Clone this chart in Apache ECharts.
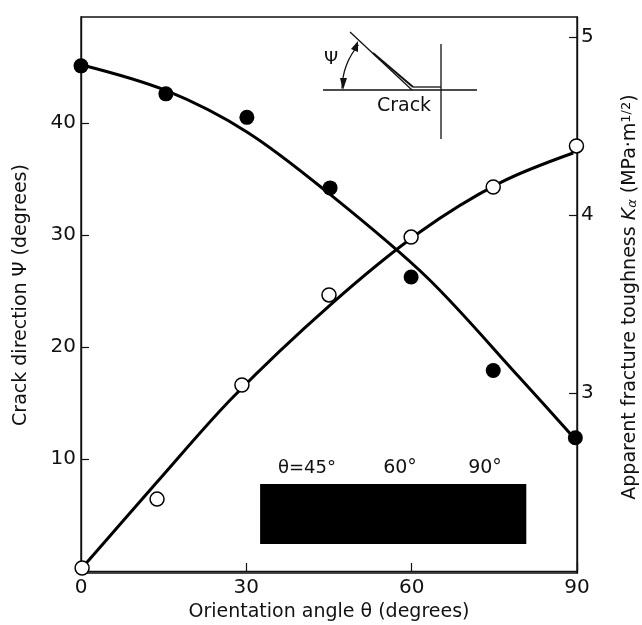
<!DOCTYPE html>
<html><head><meta charset="utf-8">
<style>html,body{margin:0;padding:0;background:#fff}#c{width:642px;height:625px}</style>
<script src="https://cdn.jsdelivr.net/npm/echarts@6/dist/echarts.min.js"></script>
</head><body><div id="c"></div>
<script>
var psiPoints = [[0,45.1],[15.4,42.6],[30.1,40.5],[45.2,34.2],[59.9,26.25],[74.8,17.9],[89.7,11.9]];
var psiCurve = [[0,45.2],[15.4,42.9],[30.1,39.2],[45,33.7],[62.8,26.2],[79.7,17.2],[89.8,11.7]];
var kPoints = [[0.2,2.017],[13.8,2.404],[29.2,3.045],[45.0,3.551],[59.9,3.876],[74.8,4.157],[89.9,4.388]];
var kCurve = [[0.5,2.028],[13.8,2.5],[27.6,2.978],[45.2,3.494],[61.5,3.904],[76,4.18],[89.3,4.348]];
var xTicks = [0,30,60,90];
var psiTicks = [10,20,30,40];
var kTicks = [3,4,5];
var barX = [32.5,80.8];
var barPsi = [2.41,7.77];
var barLabels = ['θ=45°','60°','90°'];

var FONT = '"DejaVu Sans"';
var ink = '#111';
var tickSize = 20, nameSize = 19;
function txt(x,y,t,size,extra){
  return {type:'text',x:x,y:y,silent:true,style:Object.assign({text:t,font:size+'px '+FONT,fill:ink,align:'center',verticalAlign:'middle'},extra||{})};
}
function ln(x1,y1,x2,y2,w){
  return {type:'line',silent:true,shape:{x1:x1,y1:y1,x2:x2,y2:y2},style:{stroke:ink,lineWidth:w||1.3}};
}
function poly(p){return {type:'polygon',silent:true,shape:{points:p},style:{fill:ink}};}

var chart = echarts.init(document.getElementById('c'),null,{renderer:'canvas'});
chart.setOption({
  animation:false,
  backgroundColor:'#fff',
  grid:{left:81,right:65,top:17,bottom:52,outerBoundsMode:'none',show:true,borderColor:ink,borderWidth:1.4,backgroundColor:'transparent'},
  xAxis:{type:'value',min:0,max:90,
    axisLine:{show:true,lineStyle:{color:ink,width:1.4}},
    axisTick:{show:true,inside:true,length:8,customValues:xTicks,lineStyle:{color:ink,width:1.2}},
    axisLabel:{color:ink,fontFamily:'"DejaVu Sans"',fontSize:tickSize,margin:5,customValues:xTicks},
    splitLine:{show:false},
    name:'Orientation angle θ (degrees)',nameLocation:'middle',nameGap:28,
    nameTextStyle:{color:ink,fontFamily:'"DejaVu Sans"',fontSize:nameSize}},
  yAxis:[
   {type:'value',min:-0.18,max:49.46,position:'left',
    axisLine:{show:true,lineStyle:{color:ink,width:1.4}},
    axisTick:{show:true,inside:true,length:8,customValues:psiTicks,lineStyle:{color:ink,width:1.2}},
    axisLabel:{color:ink,fontFamily:'"DejaVu Sans"',fontSize:tickSize,margin:5,customValues:psiTicks},
    splitLine:{show:false},
    name:'Crack direction Ψ (degrees)',nameLocation:'middle',nameGap:50,nameRotate:90,
    nameTextStyle:{color:ink,fontFamily:'"DejaVu Sans"',fontSize:nameSize}},
   {type:'value',min:1.989,max:5.112,position:'right',
    axisLine:{show:true,lineStyle:{color:ink,width:1.4}},
    axisTick:{show:true,inside:true,length:8,customValues:kTicks,lineStyle:{color:ink,width:1.2}},
    axisLabel:{color:ink,fontFamily:'"DejaVu Sans"',fontSize:tickSize,margin:4,customValues:kTicks},
    splitLine:{show:false}}
  ],
  series:[
   {name:'Ψ fit',type:'line',yAxisIndex:0,data:psiCurve,smooth:0.33,showSymbol:false,clip:false,
    lineStyle:{color:'#000',width:3},z:3,
    markArea:{silent:true,itemStyle:{color:'#000',opacity:1},data:[[{coord:[barX[0],barPsi[1]]},{coord:[barX[1],barPsi[0]]}]]}},
   {name:'K fit',type:'line',yAxisIndex:1,data:kCurve,smooth:0.33,showSymbol:false,clip:false,
    lineStyle:{color:'#000',width:3},z:3},
   {name:'Ψ',type:'scatter',yAxisIndex:0,data:psiPoints,symbol:'circle',symbolSize:15,clip:false,
    itemStyle:{color:'#000',opacity:1},z:5},
   {name:'K',type:'scatter',yAxisIndex:1,data:kPoints,symbol:'circle',symbolSize:14,clip:false,
    itemStyle:{color:'#fff',borderColor:'#000',borderWidth:1.5,opacity:1},z:5}
  ],
  graphic:[
    txt(307,468,barLabels[0],18),
    txt(400,468,barLabels[1],19),
    txt(485,468,barLabels[2],19),
    ln(323,90,477,90,1.3),
    ln(441,44,441,139,1.3),
    ln(350,32,412,90,1.3),
    ln(373,53,413,87,2),
    ln(413,87,441,87,1.3),
    {type:'arc',silent:true,shape:{cx:412,cy:90,r:70,startAngle:Math.PI+0.02,endAngle:Math.PI+0.70,clockwise:true},style:{stroke:ink,fill:'none',lineWidth:1.3}},
    poly([[343,90],[340,78],[347,78]]),
    poly([[358,41],[351,49],[358,52]]),
    txt(331,59,'Ψ',18),
    txt(404,106,'Crack',19),
    {type:'text',x:630,y:297,rotation:Math.PI/2,silent:true,style:{
      text:'{n|Apparent fracture toughness }{i|K}{s|α}{n| (MPa·m}{u|1/2}{n|)}',
      align:'center',verticalAlign:'middle',fill:ink,
      rich:{n:{font:nameSize+'px '+FONT,fill:ink},
            i:{font:'italic '+nameSize+'px '+FONT,fill:ink},
            s:{font:'italic 13px '+FONT,fill:ink,verticalAlign:'bottom'},
            u:{font:'13px '+FONT,fill:ink,verticalAlign:'top'}}}}
  ]
});
</script></body></html>
